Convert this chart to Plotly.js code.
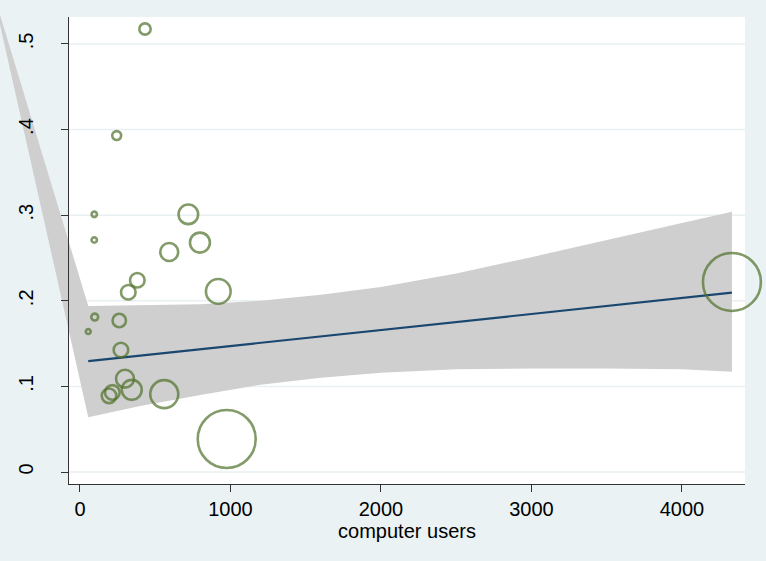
<!DOCTYPE html>
<html><head><meta charset="utf-8">
<script src="https://cdn.plot.ly/plotly-3.0.1.min.js"></script>
<style>html,body{margin:0;padding:0;background:#eaf2f3;} #chart{width:766px;height:561px;}</style>
</head><body><div id="chart"></div>
<script>
// ---- data ----
const users  = [432, 244, 95, 95, 720, 797, 593, 381, 321, 919, 98, 55, 261, 272, 299, 344, 193, 215, 560, 975, 4332];
const share  = [0.5175, 0.393, 0.301, 0.271, 0.301, 0.268, 0.257, 0.224, 0.210, 0.211, 0.181, 0.164, 0.177, 0.1425, 0.109, 0.096, 0.089, 0.093, 0.091, 0.0386, 0.222];
const weight = [8, 5, 1.8, 1.8, 24, 25, 20, 13.3, 13.3, 38, 3, 1.5, 11.2, 13.3, 20, 25, 13.3, 13.3, 49, 210, 210];

const fitX = [55, 4332];
const fitY = [0.1295, 0.2095];

const ciX     = [55, 400, 800, 1200, 1600, 2000, 2500, 3000, 3500, 4000, 4332];
const ciLower = [0.064, 0.077, 0.090, 0.102, 0.110, 0.116, 0.120, 0.121, 0.121, 0.120, 0.117];
const ciUpper = [0.194, 0.195, 0.196, 0.200, 0.207, 0.216, 0.232, 0.251, 0.271, 0.291, 0.304];
const ciTailX = [-590];
const ciTailY = [0.568];

const xTickVals = [0, 1000, 2000, 3000, 4000];
const xTickText = ['0', '1000', '2000', '3000', '4000'];
const yTickVals = [0, 0.1, 0.2, 0.3, 0.4, 0.5];
const yTickText = ['0', '.1', '.2', '.3', '.4', '.5'];
const xTitle = 'computer users';

// ---- layout geometry ----
const W = 766, H = 561;
const plotL = 69, plotR = 745, plotT = 17, plotB = 484;
const xRange = [-73, 4419];
const yRange = [-0.014, 0.5315];
const xDom = [plotL / W, plotR / W];
const yDom = [1 - plotB / H, 1 - plotT / H];
function extend(r, d) {
  const span = (r[1] - r[0]) / (d[1] - d[0]);
  return [r[0] - d[0] * span, r[1] + (1 - d[1]) * span];
}
const FONT = 'Liberation Sans, Arial, sans-serif';
const AXC = '#333333';

const bandX = ciX.concat(ciX.slice().reverse(), ciTailX, [ciX[0]]);
const bandY = ciLower.concat(ciUpper.slice().reverse(), ciTailY, [ciLower[0]]);

const traces = [
  {x: bandX, y: bandY, xaxis: 'x', yaxis: 'y', mode: 'lines', fill: 'toself',
   fillcolor: '#cfcfcf', line: {width: 0, color: '#cfcfcf'}, hoverinfo: 'skip', showlegend: false},
  {x: fitX, y: fitY, xaxis: 'x2', yaxis: 'y2', mode: 'lines',
   line: {color: '#1a476f', width: 2.2}, showlegend: false},
  {x: users, y: share, xaxis: 'x2', yaxis: 'y2', mode: 'markers', cliponaxis: false,
   marker: {symbol: 'circle-open', size: weight.map(w => 4 * Math.sqrt(w)), sizemode: 'diameter',
            color: '#4f7029', line: {width: 2.6, color: '#4f7029'}}, showlegend: false}
];

const shapes = [
  {type: 'rect', xref: 'paper', yref: 'paper', x0: xDom[0], x1: xDom[1], y0: yDom[0], y1: yDom[1],
   fillcolor: '#ffffff', line: {width: 0}, layer: 'below'}
].concat(yTickVals.map(v => ({
  type: 'line', xref: 'paper', yref: 'y2', x0: xDom[0], x1: xDom[1], y0: v, y1: v,
  line: {color: '#e8f0f2', width: 1.5}, layer: 'below'})));

const layout = {
  width: W, height: H,
  paper_bgcolor: '#eaf2f3', plot_bgcolor: 'rgba(0,0,0,0)',
  margin: {l: 0, r: 0, t: 0, b: 0, pad: 0},
  showlegend: false,
  font: {family: FONT, color: '#000000'},
  xaxis: {domain: [0, 1], range: extend(xRange, xDom), visible: false, fixedrange: true},
  yaxis: {domain: [0, 1], range: extend(yRange, yDom), visible: false, fixedrange: true},
  xaxis2: {domain: xDom, range: xRange, anchor: 'y2', tickmode: 'array', tickvals: xTickVals, ticktext: xTickText,
    ticks: 'outside', ticklen: 7, tickwidth: 1, tickcolor: AXC, showline: true, linecolor: AXC, linewidth: 1,
    showgrid: false, zeroline: false, automargin: false,
    tickfont: {family: FONT, size: 20, color: '#000'},
    title: {text: xTitle, font: {family: FONT, size: 20, color: '#000'}, standoff: 0}},
  yaxis2: {domain: yDom, range: yRange, anchor: 'x2', tickmode: 'array', tickvals: yTickVals, ticktext: yTickText,
    tickangle: -90, ticks: 'outside', ticklen: 7, tickwidth: 1, tickcolor: AXC, showline: true, linecolor: AXC, linewidth: 1,
    showgrid: false, zeroline: false, automargin: false, ticklabelstandoff: 20,
    tickfont: {family: FONT, size: 20, color: '#000'}},
  shapes: shapes
};

Plotly.newPlot('chart', traces, layout, {staticPlot: true, displayModeBar: false});
</script>
</body></html>
